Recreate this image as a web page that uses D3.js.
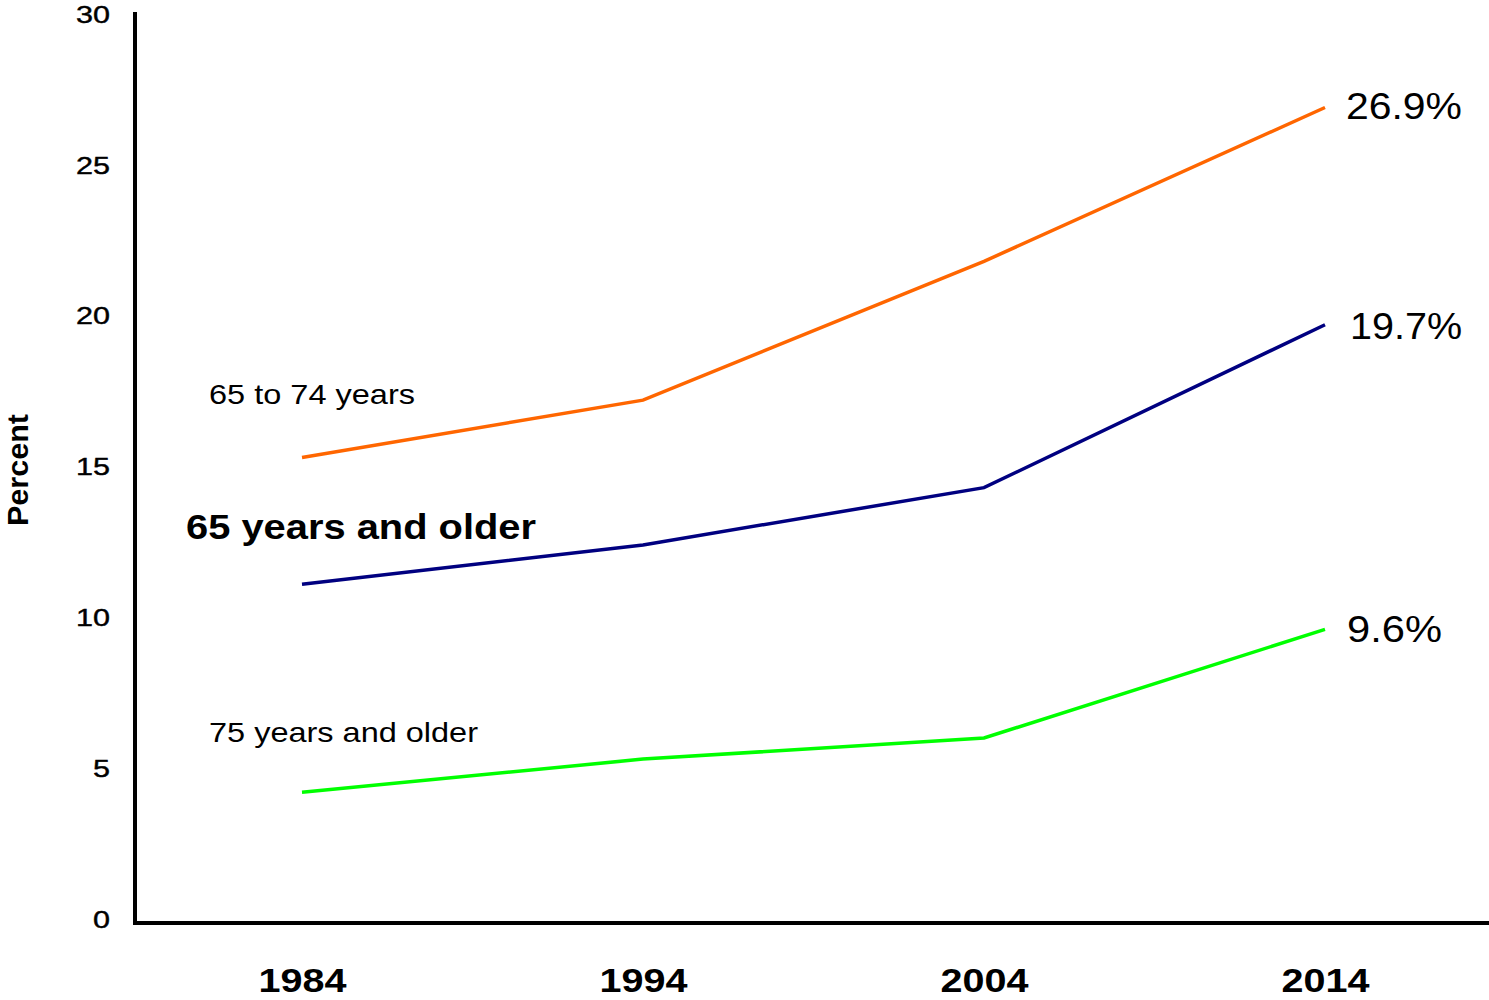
<!DOCTYPE html>
<html>
<head>
<meta charset="utf-8">
<script src="https://cdn.jsdelivr.net/npm/d3@7"></script>
<style>
  html, body { margin: 0; padding: 0; background: #fff; }
  svg { display: block; }
  text { font-family: "Liberation Sans", Arial, sans-serif; fill: #000; }
</style>
</head>
<body>
<svg id="chart" width="1489" height="1000"></svg>
<script>
const years = [1984, 1994, 2004, 2014];
const yTicks = [0, 5, 10, 15, 20, 25, 30];
const age65to74 = [15.3, 17.2, 21.8, 26.9];
const age65plus = [11.1, 12.4, 14.3, 19.7];
const age75plus = [4.2, 5.3, 6.0, 9.6];
const seriesNames = ["65 to 74 years", "65 years and older", "75 years and older"];
const endLabels = ["26.9%", "19.7%", "9.6%"];
const yAxisTitle = "Percent";

const svg = d3.select("#chart");
const x = d3.scaleLinear().domain([1984, 2014]).range([302, 1325]);
const y = d3.scaleLinear().domain([0, 30]).range([919, 14]);

// axes lines
svg.append("line").attr("x1", 135).attr("x2", 135).attr("y1", 12).attr("y2", 925)
  .attr("stroke", "#000").attr("stroke-width", 4);
svg.append("line").attr("x1", 133).attr("x2", 1489).attr("y1", 923).attr("y2", 923)
  .attr("stroke", "#000").attr("stroke-width", 4);

// y axis tick labels
const yAxis = d3.axisLeft(y).tickValues(yTicks).tickSize(0).tickPadding(0).tickFormat(d3.format("d"));
const gy = svg.append("g").attr("transform", "translate(110,0)").call(yAxis);
gy.select(".domain").remove();
gy.selectAll("text")
  .attr("font-family", "Liberation Sans, Arial, sans-serif")
  .attr("font-size", 23)
  .attr("dy", "0.36em")
  .attr("fill", "#000")
  .attr("stroke", "#000")
  .attr("stroke-width", 0.4)
  .each(function(d) {
    const n = String(d).length;
    d3.select(this).attr("textLength", 17 * n).attr("lengthAdjust", "spacingAndGlyphs");
  });

// x axis labels
const xAxis = d3.axisBottom(x).tickValues(years).tickSize(0).tickPadding(0).tickFormat(d3.format("d"));
const gx = svg.append("g").attr("transform", "translate(0,0)").call(xAxis);
gx.select(".domain").remove();
gx.selectAll("text")
  .attr("font-family", "Liberation Sans, Arial, sans-serif")
  .attr("font-size", 34)
  .attr("font-weight", "bold")
  .attr("y", 992)
  .attr("dy", null)
  .attr("fill", "#000")
  .attr("textLength", 88)
  .attr("lengthAdjust", "spacingAndGlyphs");

// y axis title
svg.append("text")
  .attr("transform", "translate(28,470) rotate(-90)")
  .attr("text-anchor", "middle")
  .attr("font-size", 29)
  .attr("font-weight", "bold")
  .attr("textLength", 112)
  .attr("lengthAdjust", "spacingAndGlyphs")
  .text(yAxisTitle);

// lines
const line = d3.line().x((d, i) => x(years[i])).y(d => y(d));
const series = [
  { values: age65to74, color: "#ff6600" },
  { values: age65plus, color: "#000080" },
  { values: age75plus, color: "#00ff00" }
];
series.forEach(s => {
  svg.append("path").datum(s.values)
    .attr("d", line)
    .attr("fill", "none")
    .attr("stroke", s.color)
    .attr("stroke-width", 3.5);
});

// series labels
svg.append("text").attr("x", 209).attr("y", 404)
  .attr("font-size", 28).attr("textLength", 206).attr("lengthAdjust", "spacingAndGlyphs")
  .text(seriesNames[0]);
svg.append("text").attr("x", 186).attr("y", 539)
  .attr("font-size", 35).attr("font-weight", "bold")
  .attr("textLength", 350).attr("lengthAdjust", "spacingAndGlyphs")
  .text(seriesNames[1]);
svg.append("text").attr("x", 209).attr("y", 742)
  .attr("font-size", 28).attr("textLength", 269).attr("lengthAdjust", "spacingAndGlyphs")
  .text(seriesNames[2]);

// end labels
const endPos = [
  { x: 1346, y: 119, w: 116 },
  { x: 1350, y: 339, w: 112 },
  { x: 1347, y: 642, w: 95 }
];
endLabels.forEach((t, i) => {
  svg.append("text").attr("x", endPos[i].x).attr("y", endPos[i].y)
    .attr("font-size", 36)
    .attr("textLength", endPos[i].w).attr("lengthAdjust", "spacingAndGlyphs")
    .text(t);
});
</script>
</body>
</html>
